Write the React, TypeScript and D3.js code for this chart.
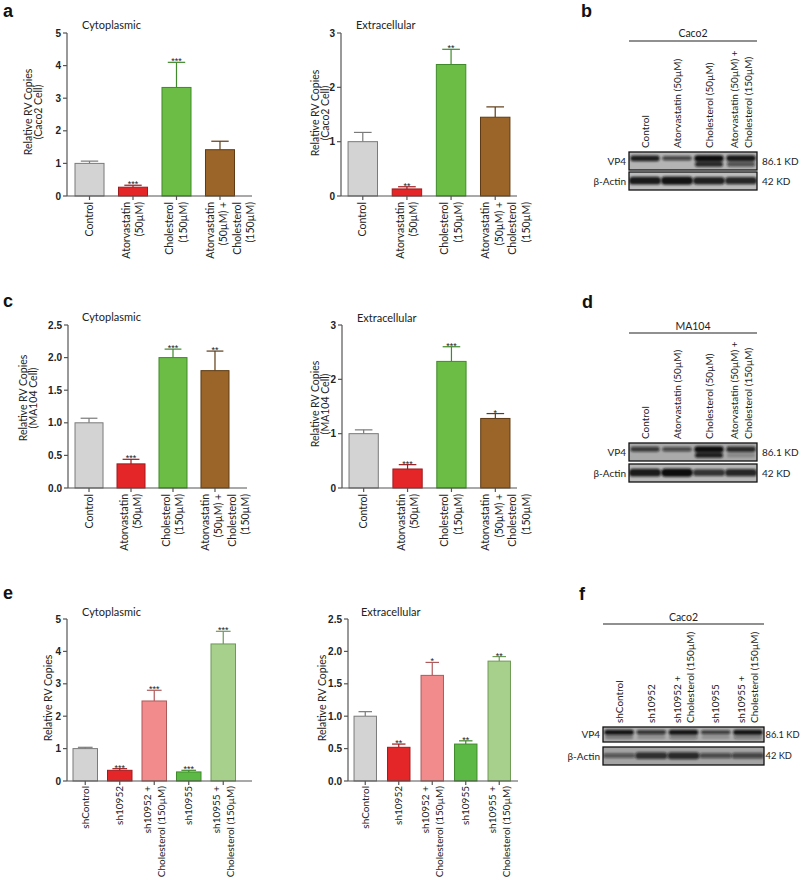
import React from 'react';
import * as d3 from 'd3';

const FONT = 'Lato, "Open Sans", sans-serif';
const NUMFONT = '"Liberation Sans", Arial, sans-serif';

// ---------- Data: treatment panels (a, c) ----------
const treatCats = ['Control', 'Atorvastatin', 'Cholesterol', 'Atorva+Chol'];
const treatLabels = [
  ['Control'],
  ['Atorvastatin', '(50µM)'],
  ['Cholesterol', '(150µM)'],
  ['Atorvastatin', '(50µM) +', 'Cholesterol', '(150µM)'],
];
const treatColors = ['#d3d3d3', '#e52629', '#6cbd45', '#9b6428'];
const treatStrokes = ['#7a7a7a', '#9e1b1e', '#3f8a2a', '#5e3b14'];

const aCytoMean = [1.0, 0.27, 3.33, 1.42];
const aCytoErr = [1.07, 0.33, 4.1, 1.68];
const aCytoSig = ['', '***', '***', ''];
const aCytoTicks = [0, 1, 2, 3, 4, 5];

const aExtraMean = [1.0, 0.13, 2.42, 1.45];
const aExtraErr = [1.17, 0.17, 2.7, 1.64];
const aExtraSig = ['', '**', '**', ''];
const aExtraTicks = [0, 1, 2, 3];

const cCytoMean = [1.0, 0.37, 2.0, 1.8];
const cCytoErr = [1.07, 0.44, 2.13, 2.1];
const cCytoSig = ['', '***', '***', '**'];
const cCytoTicks = [0, 0.5, 1, 1.5, 2, 2.5];

const cExtraMean = [1.0, 0.35, 2.33, 1.28];
const cExtraErr = [1.07, 0.43, 2.6, 1.37];
const cExtraSig = ['', '***', '***', '*'];
const cExtraTicks = [0, 1, 2, 3];

// ---------- Data: shRNA panels (e) ----------
const shCats = ['shControl', 'sh10952', 'sh10952+Chol', 'sh10955', 'sh10955+Chol'];
const shLabels = [
  ['shControl'],
  ['sh10952'],
  ['sh10952 +', 'Cholesterol (150µM)'],
  ['sh10955'],
  ['sh10955 +', 'Cholesterol (150µM)'],
];
const shColors = ['#d3d3d3', '#e52629', '#f28b8c', '#5db945', '#a8d08d'];
const shStrokes = ['#7a7a7a', '#9e1b1e', '#b0595b', '#3f8a2a', '#6d9a55'];

const eCytoMean = [1.0, 0.33, 2.47, 0.28, 4.23];
const eCytoErr = [1.04, 0.38, 2.8, 0.33, 4.62];
const eCytoSig = ['', '***', '***', '***', '***'];
const eCytoTicks = [0, 1, 2, 3, 4, 5];

const eExtraMean = [1.0, 0.52, 1.63, 0.57, 1.85];
const eExtraErr = [1.07, 0.57, 1.83, 0.62, 1.92];
const eExtraSig = ['', '**', '*', '**', '**'];
const eExtraTicks = [0, 0.5, 1, 1.5, 2, 2.5];

// ---------- Data: western blots ----------
const blotBLanes = [
  ['Control'],
  ['Atorvastatin (50µM)'],
  ['Cholesterol (50µM)'],
  ['Atorvastatin (50µM) +', 'Cholesterol  (150µM)'],
];
const blotBVp4 = [0.85, 0.5, 1.0, 0.9];
const blotBVp4Low = [0.0, 0.0, 0.85, 0.6];
const blotBActin = [0.9, 0.95, 0.85, 0.8];

const blotDLanes = blotBLanes;
const blotDVp4 = [0.6, 0.45, 1.0, 0.75];
const blotDVp4Low = [0.0, 0.0, 0.9, 0.2];
const blotDActin = [0.9, 1.0, 0.7, 0.8];

const blotFLanes = [
  ['shControl'],
  ['sh10952'],
  ['sh10952 +', 'Cholesterol (150µM)'],
  ['sh10955'],
  ['sh10955 +', 'Cholesterol (150µM)'],
];
const blotFVp4 = [0.95, 0.65, 0.95, 0.6, 0.95];
const blotFVp4Low = [0.3, 0.2, 0.35, 0.2, 0.35];
const blotFActin = [0.35, 0.7, 0.75, 0.45, 0.5];

function fmt1(v) {
  return v.toFixed(1);
}
function fmt0(v) {
  return String(v);
}

function BarChart({ cfg }) {
  const {
    axisX, axisEnd, bandEnd, yTop, yBottom, ticks, fmt, cats, labels, colors, strokes,
    mean, err, sig, title, titleX, titleY, yLabel, yLabelX, yLabelCy, pIn, pOut, labelSp, labelFs, labelGap,
  } = cfg;
  const max = ticks[ticks.length - 1];
  const x = d3.scaleBand().domain(cats).range([axisX, bandEnd]).paddingInner(pIn).paddingOuter(pOut);
  const y = d3.scaleLinear().domain([0, max]).range([yBottom, yTop]);
  const bw = x.bandwidth();
  const axisColor = '#555';
  return (
    <g>
      <text x={titleX} y={titleY} fontFamily={FONT} fontSize={11} fill="#222">{title}</text>
      {yLabel.map((ln, i) => (
        <text key={i} transform={`translate(${yLabelX + i * 9.5},${yLabelCy}) rotate(-90)`}
          textAnchor="middle" fontFamily={FONT} fontSize={10.5} fill="#222">{ln}</text>
      ))}
      {cats.map((c, i) => {
        const x0 = x(c);
        const cx = x0 + bw / 2;
        const top = y(mean[i]);
        const et = y(err[i]);
        return (
          <g key={c}>
            <line x1={cx} x2={cx} y1={top} y2={et} stroke={strokes[i]} strokeWidth={1.2} />
            <line x1={cx - bw * 0.3} x2={cx + bw * 0.3} y1={et} y2={et} stroke={strokes[i]} strokeWidth={1.2} />
            <rect x={x0} y={top} width={bw} height={yBottom - top} fill={colors[i]} stroke={strokes[i]} strokeWidth={1} />
            {sig[i] && (
              <text x={cx} y={et + 2} textAnchor="middle" fontFamily={NUMFONT} fontSize={9} fill="#222">{sig[i]}</text>
            )}
          </g>
        );
      })}
      <line x1={axisX} x2={axisX} y1={yTop} y2={yBottom} stroke={axisColor} strokeWidth={1.2} />
      <line x1={axisX} x2={axisEnd} y1={yBottom} y2={yBottom} stroke={axisColor} strokeWidth={1.2} />
      {ticks.map((t) => (
        <g key={t}>
          <line x1={axisX - 4} x2={axisX} y1={y(t)} y2={y(t)} stroke={axisColor} strokeWidth={1.2} />
          <text x={axisX - 6} y={y(t)} dy="0.35em" textAnchor="end" fontFamily={NUMFONT}
            fontWeight="bold" fontSize={10} fill="#222">{fmt(t)}</text>
        </g>
      ))}
      {cats.map((c, i) => {
        const cx = x(c) + bw / 2;
        const lines = labels[i];
        const n = lines.length;
        const base = (Math.min(n, 2) - 1) / 2;
        return (
          <g key={'l' + c}>
            <line x1={cx} x2={cx} y1={yBottom} y2={yBottom + 4} stroke={axisColor} strokeWidth={1.2} />
            {lines.map((ln, j) => {
              const off = (j - base) * labelSp - (n > 2 ? 3 : 0);
              return (
                <text key={j} transform={`translate(${cx + off + 3.7},${yBottom + labelGap}) rotate(-90)`}
                  textAnchor="end" fontFamily={FONT} fontSize={labelFs} fill="#222">{ln}</text>
              );
            })}
          </g>
        );
      })}
    </g>
  );
}

function Blot({ cfg, id }) {
  const {
    x0, x1, header, headerY, lineY, lanes, labelBottom, vp4Y, vp4H, actY, actH,
    vp4, vp4Low, actin, bg, actBg, nameX, kdX, kdFs, labelSp,
  } = cfg;
  const x = d3.scaleBand().domain(lanes.map((_, i) => String(i))).range([x0, x1]);
  const step = x.bandwidth();
  return (
    <g>
      <defs>
        <filter id={`blur${id}`} x="-20%" y="-50%" width="140%" height="200%">
          <feGaussianBlur stdDeviation="1.3" />
        </filter>
        <clipPath id={`cv${id}`}><rect x={x0} y={vp4Y} width={x1 - x0} height={vp4H} /></clipPath>
        <clipPath id={`ca${id}`}><rect x={x0} y={actY} width={x1 - x0} height={actH} /></clipPath>
      </defs>
      <text x={(x0 + x1) / 2} y={headerY} textAnchor="middle" fontFamily={FONT} fontSize={10.5} fill="#222">{header}</text>
      <line x1={x0} x2={x1} y1={lineY} y2={lineY} stroke="#222" strokeWidth={1.2} />
      {lanes.map((lines, i) => {
        const cx = x(String(i)) + step / 2;
        const n = lines.length;
        return lines.map((ln, j) => {
          const off = (j - (n - 1) / 2) * labelSp;
          return (
            <text key={`${i}-${j}`} transform={`translate(${cx + off + 3.6},${labelBottom}) rotate(-90)`}
              textAnchor="start" fontFamily={FONT} fontSize={10} fill="#222">{ln}</text>
          );
        });
      })}
      <rect x={x0} y={vp4Y} width={x1 - x0} height={vp4H} fill={bg} />
      <g clipPath={`url(#cv${id})`}>
        {vp4.map((v, i) => {
          const cx = x(String(i)) + step / 2;
          const h = vp4H * 0.32 * (0.5 + v * 0.6);
          return (
            <g key={i} filter={`url(#blur${id})`}>
              <rect x={cx - step * 0.46} y={vp4Y + vp4H * 0.35 - h / 2} width={step * 0.92} height={h}
                rx={h / 2} fill="#111" opacity={0.35 + v * 0.65} />
              {vp4Low[i] > 0 && (
                <rect x={cx - step * 0.44} y={vp4Y + vp4H * 0.68 - (h * 0.8) / 2} width={step * 0.88} height={h * 0.8}
                  rx={h / 2} fill="#111" opacity={vp4Low[i]} />
              )}
            </g>
          );
        })}
      </g>
      <rect x={x0} y={vp4Y} width={x1 - x0} height={vp4H} fill="none" stroke="#111" strokeWidth={1.3} />
      <rect x={x0} y={actY} width={x1 - x0} height={actH} fill={actBg} />
      <g clipPath={`url(#ca${id})`}>
        {actin.map((v, i) => {
          const cx = x(String(i)) + step / 2;
          const h = actH * 0.42 * (0.4 + v * 0.7);
          return (
            <g key={i} filter={`url(#blur${id})`}>
              <rect x={cx - step * 0.5} y={actY + actH * 0.48 - h / 2} width={step * 1.0} height={h}
                rx={h / 2} fill="#111" opacity={0.3 + v * 0.7} />
            </g>
          );
        })}
      </g>
      <rect x={x0} y={actY} width={x1 - x0} height={actH} fill="none" stroke="#111" strokeWidth={1.3} />
      <text x={nameX} y={vp4Y + vp4H / 2} dy="0.35em" textAnchor="end" fontFamily={FONT} fontSize={10} fill="#222">VP4</text>
      <text x={nameX} y={actY + actH / 2} dy="0.35em" textAnchor="end" fontFamily={FONT} fontSize={10} fill="#222">β-Actin</text>
      <text x={kdX} y={vp4Y + vp4H / 2} dy="0.35em" fontFamily={FONT} fontSize={kdFs} fill="#222">86.1 KD</text>
      <text x={kdX} y={actY + actH / 2} dy="0.35em" fontFamily={FONT} fontSize={kdFs} fill="#222">42 KD</text>
    </g>
  );
}

const treatBase = { cats: treatCats, labels: treatLabels, colors: treatColors, strokes: treatStrokes, labelSp: 13.5, labelFs: 10.5, labelGap: 6 };
const shBase = { cats: shCats, labels: shLabels, colors: shColors, strokes: shStrokes, labelSp: 14, labelFs: 10, labelGap: 5 };

const charts = [
  { ...treatBase, axisX: 67, axisEnd: 252, bandEnd: 242.5, yTop: 33, yBottom: 196, ticks: aCytoTicks, fmt: fmt0,
    mean: aCytoMean, err: aCytoErr, sig: aCytoSig, title: 'Cytoplasmic', titleX: 82, titleY: 29,
    yLabel: ['Relative RV Copies', '(Caco2 Cell)'], yLabelX: 32, yLabelCy: 112, pIn: 0.333, pOut: 0.184 },
  { ...treatBase, axisX: 341, axisEnd: 517, bandEnd: 517, yTop: 33, yBottom: 196, ticks: aExtraTicks, fmt: fmt0,
    mean: aExtraMean, err: aExtraErr, sig: aExtraSig, title: 'Extracellular', titleX: 356, titleY: 29,
    yLabel: ['Relative RV Copies', '(Caco2 Cell)'], yLabelX: 319, yLabelCy: 113, pIn: 0.333, pOut: 0.16 },
  { ...treatBase, axisX: 68, axisEnd: 247, bandEnd: 236, yTop: 325, yBottom: 488, ticks: cCytoTicks, fmt: fmt1,
    mean: cCytoMean, err: cCytoErr, sig: cCytoSig, title: 'Cytoplasmic', titleX: 82, titleY: 321,
    yLabel: ['Relative RV Copies', '(MA104 Cell)'], yLabelX: 27, yLabelCy: 398, pIn: 0.333, pOut: 0.167 },
  { ...treatBase, axisX: 342, axisEnd: 517, bandEnd: 517, yTop: 325, yBottom: 488, ticks: cExtraTicks, fmt: fmt0,
    mean: cExtraMean, err: cExtraErr, sig: cExtraSig, title: 'Extracellular', titleX: 357, titleY: 322,
    yLabel: ['Relative RV Copies', '(MA104 Cell)'], yLabelX: 319, yLabelCy: 404, pIn: 0.333, pOut: 0.16 },
  { ...shBase, axisX: 67, axisEnd: 252, bandEnd: 241.5, yTop: 619, yBottom: 781, ticks: eCytoTicks, fmt: fmt0,
    mean: eCytoMean, err: eCytoErr, sig: eCytoSig, title: 'Cytoplasmic', titleX: 82, titleY: 616,
    yLabel: ['Relative RV Copies'], yLabelX: 52, yLabelCy: 698, pIn: 0.29, pOut: 0.174 },
  { ...shBase, axisX: 348, axisEnd: 518, bandEnd: 516.5, yTop: 619, yBottom: 781, ticks: eExtraTicks, fmt: fmt1,
    mean: eExtraMean, err: eExtraErr, sig: eExtraSig, title: 'Extracellular', titleX: 361, titleY: 616,
    yLabel: ['Relative RV Copies'], yLabelX: 326, yLabelCy: 698, pIn: 0.33, pOut: 0.18 },
];

const blots = [
  { x0: 629, x1: 757, header: 'Caco2', headerY: 37, lineY: 41, lanes: blotBLanes, labelBottom: 148,
    vp4Y: 152, vp4H: 18, actY: 172, actH: 18, vp4: blotBVp4, vp4Low: blotBVp4Low, actin: blotBActin,
    bg: '#b4b4b4', actBg: '#bcbcbc', nameX: 626, kdX: 762, kdFs: 10, labelSp: 14 },
  { x0: 629, x1: 757, header: 'MA104', headerY: 330, lineY: 333, lanes: blotDLanes, labelBottom: 439,
    vp4Y: 443, vp4H: 18, actY: 464, actH: 18, vp4: blotDVp4, vp4Low: blotDVp4Low, actin: blotDActin,
    bg: '#aaaaaa', actBg: '#b8b8b8', nameX: 626, kdX: 762, kdFs: 10, labelSp: 14 },
  { x0: 603, x1: 764, header: 'Caco2', headerY: 621, lineY: 624, lanes: blotFLanes, labelBottom: 723,
    vp4Y: 727, vp4H: 15, actY: 747, actH: 18, vp4: blotFVp4, vp4Low: blotFVp4Low, actin: blotFActin,
    bg: '#b0b0b0', actBg: '#a4a4a4', nameX: 600, kdX: 765.5, kdFs: 9.3, labelSp: 13 },
];

const panelLetters = [
  { t: 'a', x: 3, y: 17 },
  { t: 'b', x: 581, y: 17 },
  { t: 'c', x: 3, y: 307 },
  { t: 'd', x: 582, y: 308 },
  { t: 'e', x: 3, y: 599 },
  { t: 'f', x: 579, y: 600 },
];

export default function App() {
  return (
    <svg width={800} height={880} viewBox="0 0 800 880"
      style={{ position: 'absolute', left: 0, top: 0, display: 'block', background: '#fff' }}>
      <rect width={800} height={880} fill="#fff" />
      {charts.map((c, i) => <BarChart key={i} cfg={c} />)}
      {blots.map((b, i) => <Blot key={i} id={i} cfg={b} />)}
      {panelLetters.map((p) => (
        <text key={p.t} x={p.x} y={p.y} fontFamily={NUMFONT} fontWeight="bold" fontSize={18} fill="#111">{p.t}</text>
      ))}
    </svg>
  );
}
